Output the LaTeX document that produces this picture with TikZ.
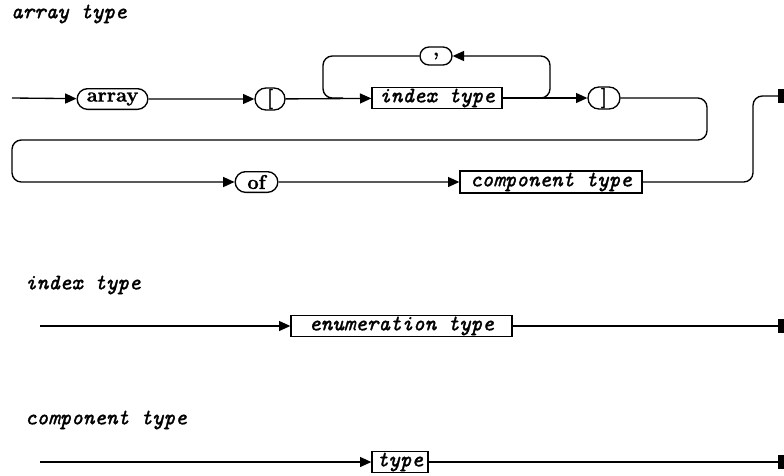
\documentclass[tikz,border=0pt]{standalone}
\usepackage{fontspec}
\newfontfamily\labfont{Latin Modern Mono}[FakeBold=1.4]
\newfontfamily\kwfont{Latin Modern Roman}[BoldFeatures={FakeBold=1.2}]
\usetikzlibrary{arrows.meta,shapes.misc}
\begin{document}
\begin{tikzpicture}[x=0.75pt,y=-0.75pt,
  line width=1pt,
  lab/.style={font=\fontsize{16.5}{18}\selectfont\labfont\itshape},
  nonterm/.style={draw, rectangle, inner sep=0pt, minimum height=15.75pt, lab},
  term/.style={draw, rounded rectangle, inner sep=0pt, minimum height=15.5pt, font=\fontsize{15}{17}\selectfont\kwfont\bfseries},
  arr/.style={-{Triangle[length=8.5pt,width=7.5pt]}},
  endmark/.style={fill, draw, inner sep=0pt, minimum width=3.5pt, minimum height=9pt},
  rc/.style={rounded corners=7pt}]
\useasboundingbox (0,0) rectangle (784,475);

% titles
\node[lab, anchor=west] (t1) at (6,14) {array type};
\node[lab, anchor=west] (t2) at (20,285) {index type};
\node[lab, anchor=west] (t3) at (20,420) {component type};

% array type diagram
\coordinate (s1) at (12,98);
\node[term, minimum width=53pt] (array) at (112.5,99) {array};
\node[term, minimum width=22.5pt, minimum height=16.5pt] (lb) at (270,99) {[};
\node[nonterm, minimum width=97.5pt] (idx) at (437,98) {index type};
\node[term, minimum width=24pt, minimum height=13.5pt] (comma) at (436,56) {,};
\node[term, minimum width=24pt, minimum height=16.5pt] (rb) at (604,98) {]};
\node[term, minimum width=32pt] (of) at (256.5,182) {of};
\node[nonterm, minimum width=136.5pt, minimum height=16.5pt] (comp) at (551,182) {component type};
\node[endmark, anchor=east] (e1) at (784,96) {};

\coordinate (lpL) at (323,98);
\coordinate (lpLt) at (323,56);
\coordinate (lpR) at (550,98);
\coordinate (lpRt) at (550,56);
\coordinate (r1) at (707,98);
\coordinate (r2) at (707,140);
\coordinate (l1) at (12,140);
\coordinate (l2) at (12,182);
\coordinate (u1) at (753,182);
\coordinate (u2) at (753,96);

\draw[arr] (s1) -- (array);
\draw[arr] (array) -- (lb);
\draw[arr] (lb) -- (idx);
\draw[arr] (idx) -- (rb);
\draw[rc,arr] (idx.east) -- (lpR) -- (lpRt) -- (comma.east);
\draw[rc] (comma.west) -- (lpLt) -- (lpL) -- ([xshift=15pt]lpL);
\draw[rc,arr] (rb.east) -- (r1) -- (r2) -- (l1) -- (l2) -- (of.west);
\draw[arr] (of) -- (comp);
\draw[rc] (comp.east) -- (u1) -- (u2) -- (e1.west);

% index type
\coordinate (s2) at (40,326);
\node[nonterm, minimum width=165.75pt] (enum) at (401.5,326) {enumeration type};
\node[endmark, anchor=east] (e2) at (784,326) {};
\draw[arr] (s2) -- (enum);
\draw (enum) -- (e2);

% component type
\coordinate (s3) at (40,462);
\node[nonterm, minimum width=42pt] (type) at (400,462) {type};
\node[endmark, anchor=east] (e3) at (784,462) {};
\draw[arr] (s3) -- (type);
\draw (type) -- (e3);
\end{tikzpicture}
\end{document}
